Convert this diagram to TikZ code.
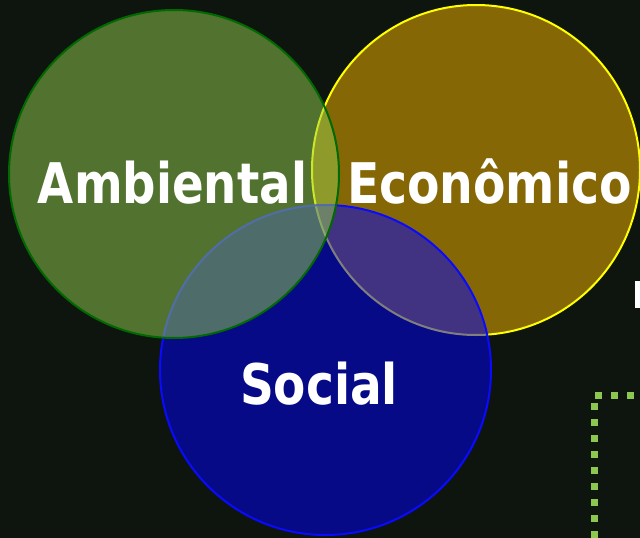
\documentclass[tikz,border=0pt]{standalone}
\usepackage{fontspec}
\setmainfont{DejaVu Sans}
\usepackage{graphicx}
\definecolor{bg}{RGB}{14,21,14}
\definecolor{gfill}{RGB}{150,208,80}
\definecolor{gline}{RGB}{0,105,0}
\definecolor{yfill}{RGB}{255,185,0}
\definecolor{yline}{RGB}{255,255,0}
\definecolor{bfill}{RGB}{0,0,255}
\definecolor{bline}{RGB}{10,10,255}
\definecolor{dotgreen}{RGB}{140,200,80}
\tikzset{
  setcircle/.style={line width=2pt, fill opacity=0.5},
  lbl/.style={text=white, inner sep=0pt, anchor=base, font=\fontsize{56}{60}\selectfont\bfseries},
  dotline/.style={draw=dotgreen, line width=7pt, dash pattern=on 7pt off 9pt}
}
\begin{document}
\begin{tikzpicture}[x=1pt,y=-1pt]
\useasboundingbox (0,0) rectangle (640,538);
\clip (0,0) rectangle (640,538);
\fill[bg] (0,0) rectangle (640,538);
% circles: order yellow, blue, green
\path[setcircle, draw=yline, fill=yfill] (476,170) ellipse [x radius=164, y radius=165];
\path[setcircle, draw=bline, fill=bfill] (325.5,370) ellipse [x radius=165.5, y radius=165];
\path[setcircle, draw=gline, fill=gfill] (174,174) ellipse [x radius=165, y radius=164];
% labels
\node[lbl] (amb) at (172.5,203) {\resizebox{269pt}{\height}{Ambiental}};
\node[lbl] (eco) at (489.5,203) {\resizebox{285pt}{\height}{Econômico}};
\node[lbl] (soc) at (319,404) {\resizebox{158pt}{\height}{Social}};
% fragment at the right edge
\fill[white] (635,281) rectangle (641,308);
% green dotted frame
\coordinate (hend) at (660,395);
\coordinate (vstart) at (594.5,403);
\coordinate (vend) at (594.5,560);
\draw[dotline] (595,395) -- (hend);
\draw[dotline] (vstart) -- (vend);
\end{tikzpicture}
\end{document}
